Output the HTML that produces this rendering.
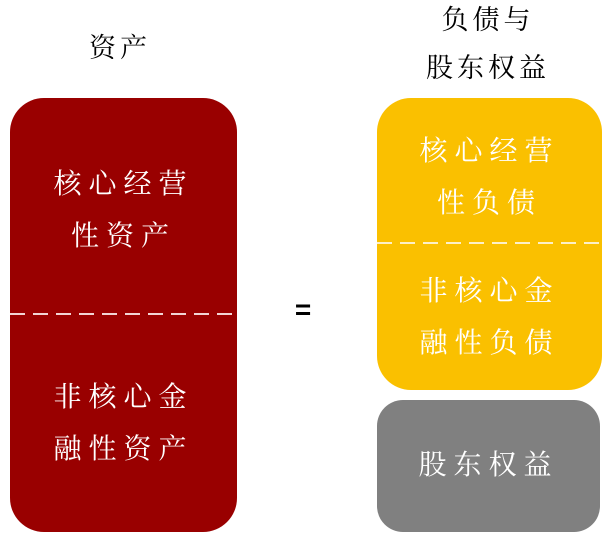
<!DOCTYPE html>
<html><head><meta charset="utf-8"><style>
body{margin:0;width:609px;height:540px;background:#fff;position:relative;overflow:hidden;font-family:"Liberation Serif","Noto Serif CJK SC",serif;}
.b{position:absolute;}
.t{position:absolute;color:#fff;font-size:28px;letter-spacing:7px;text-align:center;line-height:52px;white-space:nowrap}
.h{position:absolute;color:#000;font-size:27px;letter-spacing:4px;text-align:center;line-height:48px;white-space:nowrap}
svg{position:absolute;left:0;top:0}
</style></head><body>
<div class="h" style="left:60px;top:24px;width:120px">资产</div>
<div class="h" style="left:418px;top:-4px;width:140px">负债与<br>股东权益</div>
<div class="b" style="left:10px;top:98px;width:227px;height:434px;background:#990000;border-radius:34px"></div>
<div class="t" style="left:10px;top:159px;width:227px">核心经营<br>性资产</div>
<div class="t" style="left:10px;top:372px;width:227px">非核心金<br>融性资产</div>
<div class="h" style="left:285px;top:286px;width:40px;font-family:'Liberation Sans',sans-serif;font-weight:bold;font-size:28px">=</div>
<div class="b" style="left:377px;top:98px;width:225px;height:292px;background:#fac000;border-radius:34px"></div>
<div class="t" style="left:377px;top:126px;width:225px">核心经营<br>性负债</div>
<div class="t" style="left:377px;top:266px;width:225px">非核心金<br>融性负债</div>
<div class="b" style="left:377px;top:400px;width:223px;height:132px;background:#808080;border-radius:26px"></div>
<div class="t" style="left:377px;top:440px;width:223px">股东权益</div>
<svg width="609" height="540">
<line x1="10" y1="314" x2="237" y2="314" stroke="#f2d4d4" stroke-width="2" stroke-dasharray="15 8"/>
<line x1="377" y1="243" x2="602" y2="243" stroke="#fdf0c8" stroke-width="2" stroke-dasharray="15 8"/>
</svg>
</body></html>
